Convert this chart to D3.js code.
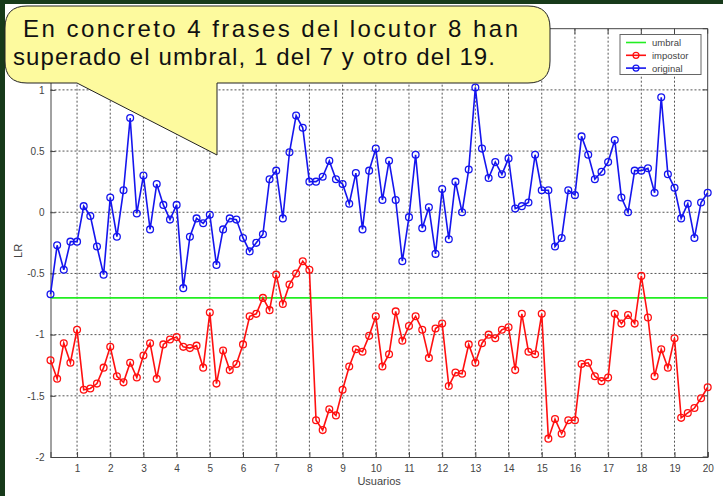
<!DOCTYPE html>
<html>
<head>
<meta charset="utf-8">
<script src="https://cdn.jsdelivr.net/npm/d3@7"></script>
<style>
  html, body { margin: 0; padding: 0; background: #ffffff; }
  svg { display: block; }
</style>
</head>
<body>
<svg id="chart" width="723" height="496"></svg>
<script>
// ---- data ----
const pointsPerUser = 5;
const original = [
  -0.67,-0.27,-0.47,-0.24,-0.24, 0.05,-0.03,-0.28,-0.51, 0.12,
  -0.20, 0.18, 0.77,-0.01, 0.30,-0.14, 0.23, 0.06,-0.06, 0.06,
  -0.62,-0.20,-0.05,-0.09,-0.02,-0.43,-0.14,-0.05,-0.06,-0.21,
  -0.32,-0.25,-0.18, 0.27, 0.34,-0.05, 0.49, 0.79, 0.69, 0.25,
   0.25, 0.29, 0.42, 0.27, 0.23, 0.07, 0.32,-0.14, 0.34, 0.52,
   0.10, 0.42, 0.10,-0.40,-0.04, 0.47,-0.13, 0.04,-0.34, 0.19,
  -0.22, 0.25, 0.00, 0.35, 1.02, 0.52, 0.28, 0.41, 0.31, 0.44,
   0.03, 0.05, 0.08, 0.47, 0.18, 0.18,-0.28,-0.21, 0.18, 0.14,
   0.62, 0.47, 0.27, 0.33, 0.41, 0.59, 0.12, 0.00, 0.34, 0.34,
   0.36, 0.16, 0.94, 0.31, 0.20,-0.05, 0.07,-0.21, 0.08, 0.16
];
const impostor = [
  -1.21,-1.36,-1.07,-1.23,-0.96,-1.45,-1.44,-1.40,-1.27,-1.10,
  -1.34,-1.39,-1.23,-1.35,-1.17,-1.07,-1.36,-1.08,-1.04,-1.02,
  -1.10,-1.11,-1.09,-1.27,-0.82,-1.40,-1.13,-1.29,-1.24,-1.08,
  -0.85,-0.83,-0.70,-0.80,-0.51,-0.75,-0.59,-0.50,-0.40,-0.47,
  -1.70,-1.78,-1.61,-1.66,-1.45,-1.26,-1.12,-1.14,-1.01,-0.85,
  -1.26,-1.16,-0.81,-1.05,-0.93,-0.85,-0.96,-1.19,-0.95,-0.91,
  -1.42,-1.31,-1.32,-1.08,-1.23,-1.07,-1.00,-1.03,-0.96,-0.94,
  -1.29,-0.83,-1.14,-1.16,-0.83,-1.85,-1.69,-1.81,-1.70,-1.70,
  -1.24,-1.23,-1.34,-1.38,-1.35,-0.83,-0.91,-0.84,-0.91,-0.52,
  -0.86,-1.34,-1.12,-1.27,-1.03,-1.68,-1.64,-1.60,-1.52,-1.43
];
const umbral = -0.7;
const xTicks = d3.range(1, 21);
const yTicks = [-2, -1.5, -1, -0.5, 0, 0.5, 1, 1.5];
const yTickLabels = ["-2", "-1.5", "-1", "-0.5", "0", "0.5", "1", ""];
const legendLabels = ["umbral", "impostor", "original"];
const calloutLines = [" En concreto 4 frases del locutor 8 han", "superado el umbral, 1 del 7 y otro del 19."];

// ---- layout ----
const svg = d3.select("#chart");
const W = 723, H = 496;
const plot = { left: 50.5, right: 707.7, top: 28.7, bottom: 457 };

svg.append("rect").attr("x", 0).attr("y", 0).attr("width", W).attr("height", H).attr("fill", "#173a1a");
svg.append("rect").attr("x", 5).attr("y", 4).attr("width", W - 5).attr("height", H - 4).attr("fill", "#ffffff");

const x = d3.scaleLinear().domain([1 / pointsPerUser, 20]).range([plot.left, plot.right]);
const y = d3.scaleLinear().domain([-2, 1.5]).range([plot.bottom, plot.top]);

const xs = (i) => (i + 1) / pointsPerUser;

// grid
const grid = svg.append("g");
grid.selectAll("line.gx").data(xTicks.filter(t => t < 20)).join("line")
  .attr("x1", d => x(d)).attr("x2", d => x(d))
  .attr("y1", plot.top).attr("y2", plot.bottom)
  .attr("stroke", "#555").attr("stroke-width", 1).attr("stroke-dasharray", "2,2");
grid.selectAll("line.gy").data(yTicks.filter(t => t > -2 && t < 1.5)).join("line")
  .attr("x1", plot.left).attr("x2", plot.right)
  .attr("y1", d => y(d)).attr("y2", d => y(d))
  .attr("stroke", "#555").attr("stroke-width", 1).attr("stroke-dasharray", "2,2");

// axes
const axFont = "Liberation Sans, Arial, sans-serif";
const xAxis = d3.axisBottom(x).tickValues(xTicks).tickSize(-5).tickPadding(8).tickFormat(d3.format("d"));
const gx = svg.append("g").attr("transform", `translate(0,${plot.bottom})`).call(xAxis);
const yAxis = d3.axisLeft(y).tickValues(yTicks).tickSize(-5).tickPadding(6).tickFormat((d, i) => yTickLabels[i]);
const gy = svg.append("g").attr("transform", `translate(${plot.left},0)`).call(yAxis);
[gx, gy].forEach(g => {
  g.select(".domain").attr("stroke", "#444");
  g.selectAll(".tick line").attr("stroke", "#444");
  g.selectAll(".tick text").attr("fill", "#444").attr("font-size", 10).attr("font-family", axFont);
});
// top/right box
svg.append("line").attr("x1", plot.left).attr("x2", plot.right).attr("y1", plot.top).attr("y2", plot.top).attr("stroke", "#444");
svg.append("line").attr("x1", plot.right).attr("x2", plot.right).attr("y1", plot.top).attr("y2", plot.bottom).attr("stroke", "#444");
svg.append("g").selectAll("line").data(xTicks).join("line")
  .attr("x1", d => x(d)).attr("x2", d => x(d)).attr("y1", plot.top).attr("y2", plot.top + 5).attr("stroke", "#444");
svg.append("g").selectAll("line").data(yTicks).join("line")
  .attr("x1", plot.right - 5).attr("x2", plot.right).attr("y1", d => y(d)).attr("y2", d => y(d)).attr("stroke", "#444");

// axis titles
svg.append("text").attr("x", (plot.left + plot.right) / 2).attr("y", 485)
  .attr("text-anchor", "middle").attr("font-size", 11).attr("fill", "#444").attr("font-family", axFont).text("Usuarios");
svg.append("text").attr("transform", `translate(22,${(plot.top + plot.bottom) / 2 + 8}) rotate(-90)`)
  .attr("text-anchor", "middle").attr("font-size", 11).attr("fill", "#444").attr("font-family", axFont).text("LR");

// umbral
svg.append("line").attr("x1", plot.left).attr("x2", plot.right)
  .attr("y1", y(umbral)).attr("y2", y(umbral)).attr("stroke", "#22ee22").attr("stroke-width", 1.6);

// series
function series(data, color) {
  const line = d3.line().x((d, i) => x(xs(i))).y(d => y(d));
  svg.append("path").datum(data).attr("d", line).attr("fill", "none")
    .attr("stroke", color).attr("stroke-width", 1.6);
  svg.append("g").selectAll("circle").data(data).join("circle")
    .attr("cx", (d, i) => x(xs(i))).attr("cy", d => y(d)).attr("r", 3.4)
    .attr("fill", "none").attr("stroke", color).attr("stroke-width", 1.3);
}
series(impostor, "#ff1010");
series(original, "#1515ee");

// legend
const lg = svg.append("g");
lg.append("rect").attr("x", 620).attr("y", 34.5).attr("width", 81).attr("height", 40)
  .attr("fill", "#fff").attr("stroke", "#666").attr("stroke-width", 1);
const legColors = ["#22ee22", "#ff1010", "#1515ee"];
legendLabels.forEach((lab, i) => {
  const ly = 42.5 + i * 12.8;
  lg.append("line").attr("x1", 626).attr("x2", 646).attr("y1", ly).attr("y2", ly)
    .attr("stroke", legColors[i]).attr("stroke-width", 1.6);
  if (i > 0) lg.append("circle").attr("cx", 636).attr("cy", ly).attr("r", 3)
    .attr("fill", "none").attr("stroke", legColors[i]).attr("stroke-width", 1.2);
  lg.append("text").attr("x", 652).attr("y", ly + 3.5).attr("font-size", 9.5)
    .attr("fill", "#444").attr("font-family", axFont).text(lab);
});

// callout bubble
const bx0 = 5, by0 = 6, bx1 = 550, by1 = 83, r = 22;
const tail = [[77, by1], [217, 155], [217, by1]];
const p = d3.path();
p.moveTo(bx0 + r, by0);
p.lineTo(bx1 - r, by0);
p.quadraticCurveTo(bx1, by0, bx1, by0 + r);
p.lineTo(bx1, by1 - r);
p.quadraticCurveTo(bx1, by1, bx1 - r, by1);
p.lineTo(tail[2][0], tail[2][1]);
p.lineTo(tail[1][0], tail[1][1]);
p.lineTo(tail[0][0], tail[0][1]);
p.lineTo(bx0 + r, by1);
p.quadraticCurveTo(bx0, by1, bx0, by1 - r);
p.lineTo(bx0, by0 + r);
p.quadraticCurveTo(bx0, by0, bx0 + r, by0);
p.closePath();
svg.append("path").attr("d", p.toString()).attr("fill", "#fdfa9e").attr("stroke", "#222").attr("stroke-width", 1);

const tf = "Liberation Sans, Arial, sans-serif";
svg.append("text").attr("x", 14).attr("y", 37).attr("font-size", 24).attr("font-family", tf)
  .attr("fill", "#111").attr("textLength", 504).attr("lengthAdjust", "spacing")
  .attr("xml:space", "preserve").style("white-space", "pre").text(calloutLines[0]);
svg.append("text").attr("x", 13).attr("y", 65).attr("font-size", 24).attr("font-family", tf)
  .attr("fill", "#111").attr("textLength", 482).attr("lengthAdjust", "spacing").text(calloutLines[1]);
</script>
</body>
</html>
